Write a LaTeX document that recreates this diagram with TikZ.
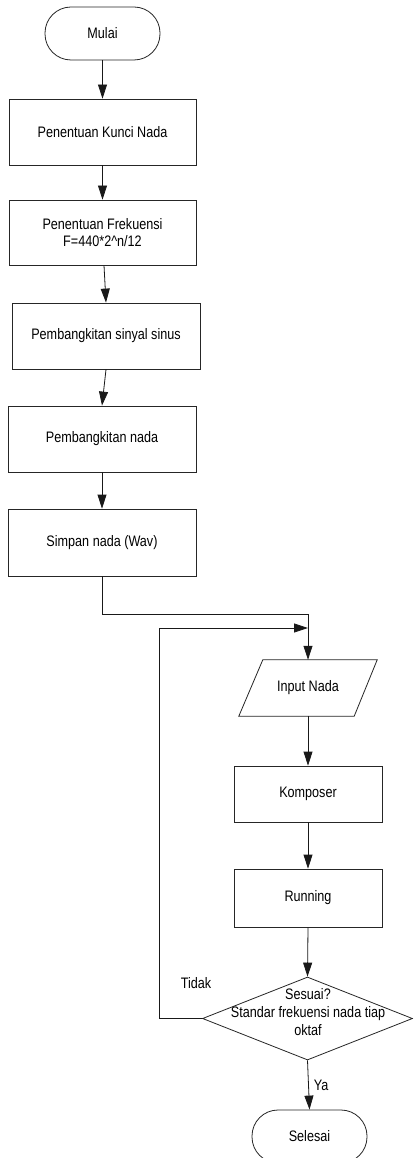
\documentclass[tikz,border=0pt]{standalone}
\usepackage{fontspec}
\setmainfont{Liberation Sans}[FakeStretch=0.83]
\usetikzlibrary{arrows.meta,shapes.geometric}
\begin{document}
\begin{tikzpicture}[x=1pt,y=-1pt,
  every node/.style={font=\fontsize{15.2}{17.8}\selectfont, text=black},
  box/.style={draw=black!85, line width=0.8pt, rectangle, inner sep=0pt, align=center},
  term/.style={draw=black!85, line width=0.8pt, rectangle, rounded corners=26pt, inner sep=0pt, minimum width=115pt, minimum height=53pt},
  arr/.style={draw=black!90, line width=0.8pt, -{Triangle[length=14pt,width=9pt]}},
  lbl/.style={inner sep=0pt}
]
\clip (0,0) rectangle (413,1158);
\fill[white] (0,0) rectangle (413,1158);

\node[term] (mulai) at (102.5,33.5) {Mulai};
\node[box, minimum width=187pt, minimum height=66pt] (b1) at (102.5,132) {Penentuan Kunci Nada};
\node[box, minimum width=187pt, minimum height=65pt] (b2) at (102.5,232.5) {Penentuan Frekuensi\\F=440*2\^{}n/12};
\node[box, minimum width=188pt, minimum height=66pt] (b3) at (106,336) {Pembangkitan sinyal sinus};
\node[box, minimum width=188pt, minimum height=66pt] (b4) at (102,439) {Pembangkitan nada};
\node[box, minimum width=188pt, minimum height=67pt] (b5) at (102,542.5) {Simpan nada (Wav)};

\node[lbl, minimum width=138pt, minimum height=56pt] (inp) at (308,688) {Input Nada};
\draw[black!85, line width=0.8pt] (inp.south west) -- ([xshift=24pt]inp.north west) -- (inp.north east) -- ([xshift=-23pt]inp.south east) -- cycle;

\node[box, minimum width=148pt, minimum height=56pt] (komp) at (308,794) {Komposer};
\node[box, minimum width=148pt, minimum height=58pt] (run) at (308,898) {Running};

\node[diamond, draw=black!85, line width=0.8pt, inner sep=0pt, minimum width=210pt, minimum height=83pt, aspect=2.53] (dia) at (307.5,1018.5) {};
\node[lbl, align=center] (diatext) at (308,1012) {Sesuai?\\Standar frekuensi nada tiap\\oktaf};

\node[term] (sel) at (309.5,1136.5) {Selesai};

\coordinate (j1) at (308,614);
\coordinate (lp) at (159,628);
\coordinate (lpend) at (308,628);

\draw[arr] (mulai.south) -- (b1.north);
\draw[arr] (b1.south) -- (b2.north);
\draw[arr] ([xshift=1.5pt]b2.south) -- (b3.north);
\draw[arr] (b3.south) -- (b4.north);
\draw[arr] (b4.south) -- (b5.north);
\draw[arr] (b5.south) |- (j1) -- (inp.north);
\draw[arr] (dia.west) -| (lp) -- (lpend);
\draw[arr] (inp.south) -- (komp.north);
\draw[arr] (komp.south) -- (run.north);
\draw[arr] (run.south) -- (dia.north);
\draw[arr] (dia.south) -- (sel.north) node[lbl, midway, right=5pt] (ya) {Ya};

\node[lbl] (tidak) at (196,983) {Tidak};
\end{tikzpicture}
\end{document}
